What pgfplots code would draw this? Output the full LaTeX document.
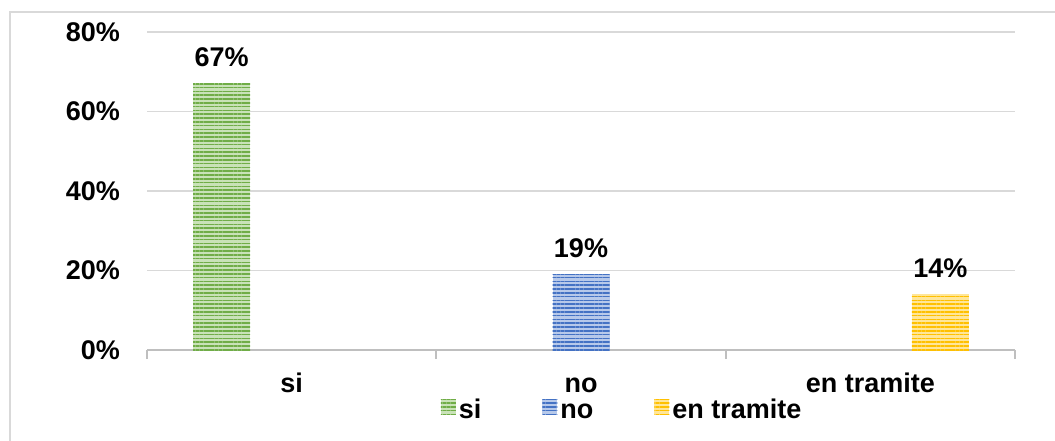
\documentclass[border=0pt]{standalone}
\usepackage{pgfplots}
\pgfplotsset{compat=1.18}
\usepackage{fontspec}
\setmainfont{Liberation Sans}
\usetikzlibrary{patterns.meta}

\definecolor{siDark}{HTML}{70AD47}
\definecolor{siLight}{HTML}{C9E2B8}
\definecolor{noDark}{HTML}{4472C4}
\definecolor{noLight}{HTML}{B7C9EA}
\definecolor{trDark}{HTML}{FFC000}
\definecolor{trLight}{HTML}{FFE699}
\definecolor{gridgray}{HTML}{D9D9D9}
\definecolor{axisgray}{HTML}{BFBFBF}

\newcommand\lab{\fontsize{27bp}{32bp}\selectfont\bfseries}

\pgfplotsset{
  stripes/.style n args={2}{
    fill=#2, draw=none,
    postaction={pattern={Lines[angle=0, distance=3.8bp, line width=1.7bp]}, pattern color=#1}
  }
}

\begin{document}
\begin{tikzpicture}
\useasboundingbox (0,0) rectangle (1055bp,441bp);
\draw[gridgray, line width=1.5bp] (10bp,429bp) rectangle (1075bp,-20bp);
\begin{axis}[
  at={(147bp,91bp)}, anchor=south west,
  scale only axis, width=868bp, height=318bp,
  ybar, ymin=0, ymax=80,
  xmin=-0.5, xmax=2.5,
  xtick={0,1,2}, xticklabels={si,no,en tramite},
  minor xtick={-0.5,0.5,1.5,2.5},
  ytick={0,20,40,60,80}, yticklabels={0\%,20\%,40\%,60\%,80\%},
  major tick length=0pt,
  minor tick length=9bp,
  tick align=outside,
  minor tick style={axisgray, line width=2bp},
  axis x line*=bottom, axis y line*=left,
  y axis line style={draw=none},
  x axis line style={axisgray, line width=2bp},
  ymajorgrids, grid style={gridgray, line width=1.2bp},
  tick label style={font=\lab},
  yticklabel style={inner sep=0pt, xshift=-27bp},
  xticklabel style={anchor=base, inner sep=0pt, yshift=-42bp},
  bar width=57bp,
  nodes near coords={\pgfmathprintnumber[assume math mode=true]{\pgfplotspointmeta}\%},
  every node near coord/.append style={font=\lab, anchor=base, inner sep=0pt, yshift=17bp},
  legend columns=3,
  legend style={draw=none, fill=none, at={(0.548,-0.186)}, anchor=center, font=\lab,
    /tikz/every even column/.append style={column sep=58bp},
    nodes={inner sep=3bp, text height=20bp, text depth=1bp}},
  legend image code/.code={\fill[#1, draw=none] (0bp,-5bp) rectangle (15bp,10bp);},
]
\addplot[stripes={siDark}{siLight}, bar shift=0pt] coordinates {(-0.242,67)};
\addplot[stripes={noDark}{noLight}, bar shift=0pt] coordinates {(1,19)};
\addplot[stripes={trDark}{trLight}, bar shift=0pt] coordinates {(2.242,14)};
\legend{si,no,en tramite}
\end{axis}
\end{tikzpicture}
\end{document}
